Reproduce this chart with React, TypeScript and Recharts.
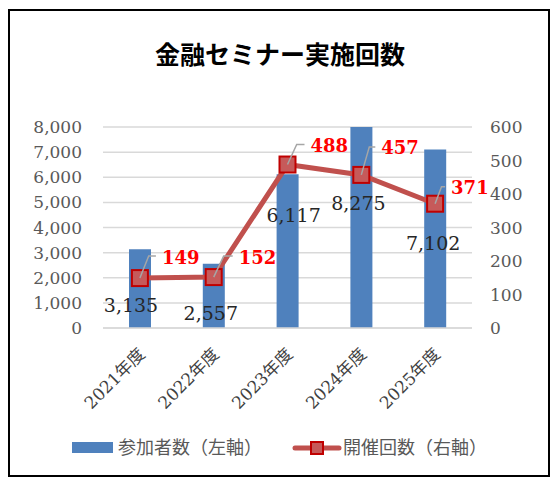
import { ComposedChart, Bar, Line, XAxis, YAxis, CartesianGrid, LabelList } from 'recharts'

const years = ['2021年度', '2022年度', '2023年度', '2024年度', '2025年度']
const participants = [3135, 2557, 6117, 8275, 7102]
const sessions = [149, 152, 488, 457, 371]
const leftTicks = [0, 1000, 2000, 3000, 4000, 5000, 6000, 7000, 8000]
const rightTicks = [0, 100, 200, 300, 400, 500, 600]

const title = '金融セミナー実施回数'
const barName = '参加者数（左軸）'
const lineName = '開催回数（右軸）'

// hand-placed label offsets (as dragged in the original workbook)
const barLabelShift = [[-9, -23], [-3, -15], [6, -113], [-3, -125], [-2, -85]]
const lineLabelShift = [[22, -21], [25, -20], [23, -19], [20, -27], [16, -16]]

const data = years.map((year, i) => ({ year, participants: participants[i], sessions: sessions[i] }))

const serif = "'DejaVu Serif', 'Noto Sans CJK JP', serif"
const tickStyle = { fill: '#595959', fontSize: 17, fontFamily: serif }
const fmt = (v: number) => v.toLocaleString('en-US')

const YearTick = ({ x, y, payload }: any) => (
  <g transform={`translate(${x + 2},${y + 23})`}>
    <text textAnchor="end" dominantBaseline="central" transform="rotate(-45)" fill="#404040" fontSize={17} fontFamily={serif}>
      {payload.value}
    </text>
  </g>
)

const BarValue = (props: any) => {
  const { x, y, width, height, value } = props
  const i = props.index ?? participants.indexOf(value)
  const [dx, dy] = barLabelShift[i] || [0, 0]
  return (
    <text x={x + width / 2 + dx} y={y + height + dy} textAnchor="middle" dominantBaseline="central"
      fill="#262626" fontSize={19} fontFamily={serif}>
      {fmt(value)}
    </text>
  )
}

const LineValue = (props: any) => {
  const { x, y, value } = props
  const i = props.index ?? sessions.indexOf(value)
  const [dx, dy] = lineLabelShift[i] || [20, -20]
  const ly = y + dy
  return (
    <g>
      <polyline points={`${x},${y} ${x + dx * 0.4},${ly - 1} ${x + dx - 6},${ly - 1}`} fill="none" stroke="#a6a6a6" strokeWidth={1.5} />
      <text x={x + dx} y={ly} dominantBaseline="central" fill="#ff0000" fontSize={18} fontWeight="bold" fontFamily={serif}>
        {value}
      </text>
    </g>
  )
}

const SquareDot = ({ cx, cy, index }: any) => (
  <rect key={index} x={cx - 8} y={cy - 8} width={16} height={16} fill="#c65a5a" stroke="#c00000" strokeWidth={2} />
)

export default function App() {
  return (
    <div style={{ position: 'absolute', left: 0, top: 0, width: 560, height: 488, background: '#fff' }}>
      <div style={{ position: 'absolute', left: 8, top: 9, width: 542, height: 468, border: '2px solid #000', boxSizing: 'border-box' }} />
      <div style={{ position: 'absolute', left: 0, top: 38, width: 560, textAlign: 'center', fontFamily: "'Noto Sans CJK JP', sans-serif", fontWeight: 'bold', fontSize: 25, lineHeight: '30px', color: '#000' }}>
        {title}
      </div>
      <div style={{ position: 'absolute', left: 0, top: 0 }}>
        <ComposedChart width={560} height={488} data={data} margin={{ top: 127, right: 0, bottom: 60, left: 0 }}>
          <CartesianGrid yAxisId="left" vertical={false} stroke="#d9d9d9" strokeWidth={1.5} />
          <XAxis dataKey="year" interval={0} height={100} axisLine={{ stroke: '#d9d9d9', strokeWidth: 1.5 }} tickLine={false} tickSize={0} tickMargin={0} tick={<YearTick />} />
          <YAxis yAxisId="left" orientation="left" width={103} domain={[0, 8000]} ticks={leftTicks} allowDataOverflow
            axisLine={false} tickLine={false} tickSize={0} tickMargin={21} tick={tickStyle} tickFormatter={fmt} />
          <YAxis yAxisId="right" orientation="right" width={88} domain={[0, 600]} ticks={rightTicks}
            axisLine={false} tickLine={false} tickSize={0} tickMargin={18} tick={tickStyle} />
          <Bar yAxisId="left" dataKey="participants" name={barName} fill="#4f81bd" barSize={22} isAnimationActive={false}>
            <LabelList dataKey="participants" content={<BarValue />} />
          </Bar>
          <Line yAxisId="right" dataKey="sessions" name={lineName} type="linear" stroke="#c0504d" strokeWidth={5}
            dot={<SquareDot />} activeDot={false} isAnimationActive={false}>
            <LabelList dataKey="sessions" content={<LineValue />} />
          </Line>
        </ComposedChart>
      </div>
      <div style={{ position: 'absolute', left: 72, top: 442, width: 41, height: 11, background: '#4f81bd' }} />
      <div style={{ position: 'absolute', left: 118, top: 436, lineHeight: '24px', fontSize: 18, color: '#595959', fontFamily: serif }}>
        {barName}
      </div>
      <svg style={{ position: 'absolute', left: 292, top: 440 }} width={50} height={16}>
        <line x1={3} y1={8} x2={47} y2={8} stroke="#c0504d" strokeWidth={5} strokeLinecap="round" />
        <rect x={19} y={2} width={12} height={12} fill="#c65a5a" stroke="#c00000" strokeWidth={2} />
      </svg>
      <div style={{ position: 'absolute', left: 343, top: 436, lineHeight: '24px', fontSize: 18, color: '#595959', fontFamily: serif }}>
        {lineName}
      </div>
    </div>
  )
}
